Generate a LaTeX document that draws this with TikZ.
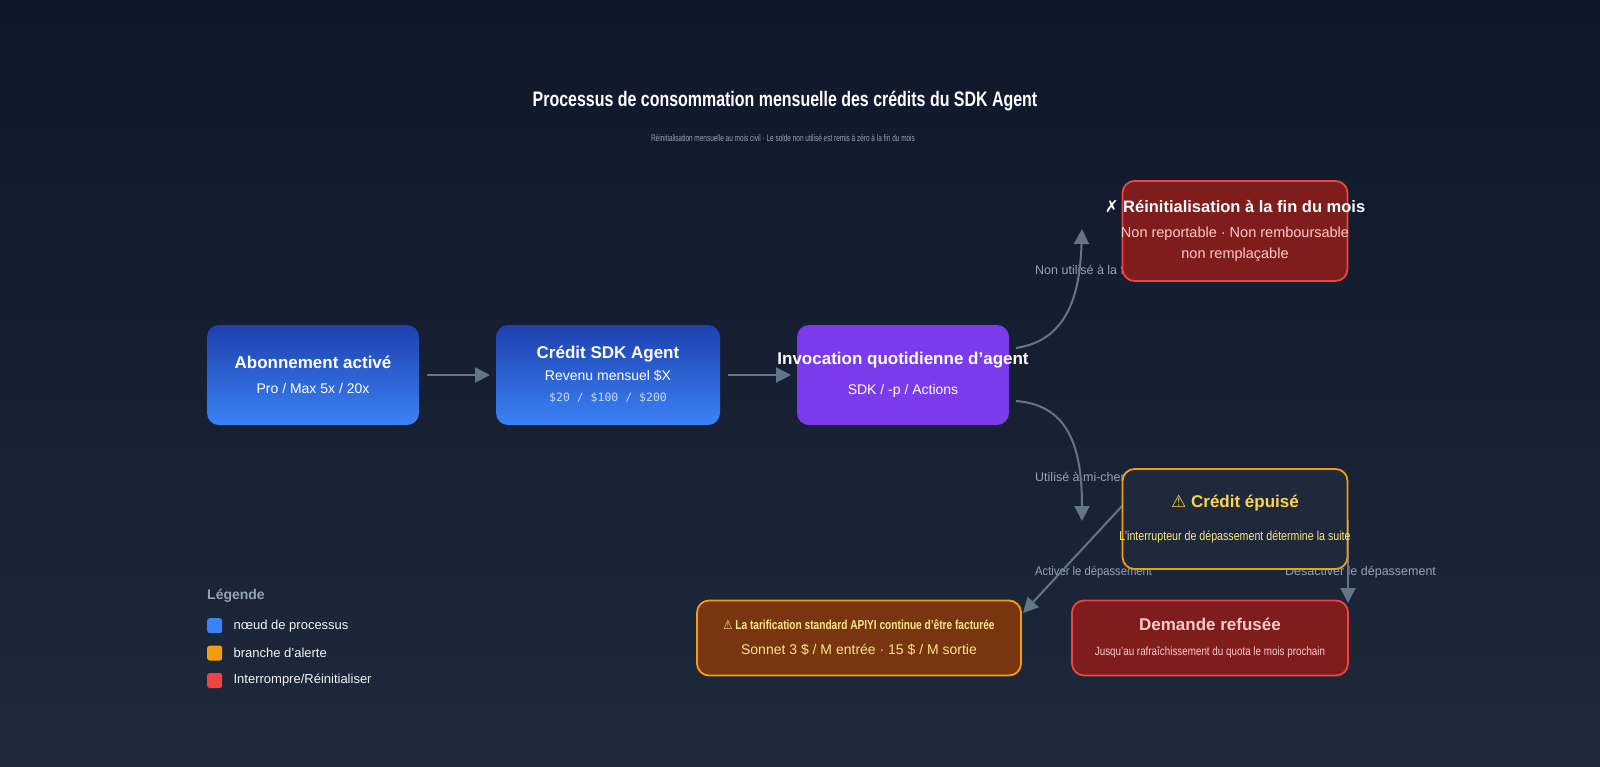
\documentclass[tikz,border=0pt]{standalone}
\usepackage{fontspec}
\setmainfont{Liberation Sans}
\setmonofont{DejaVu Sans Mono}
\newfontfamily\symfont{DejaVu Sans}
\usetikzlibrary{positioning,arrows.meta}
\definecolor{bgtop}{HTML}{0F172A}
\definecolor{bgbot}{HTML}{1E293B}
\definecolor{bluetop}{HTML}{1E40AF}
\definecolor{bluebot}{HTML}{3B82F6}
\definecolor{purp}{HTML}{7C3AED}
\definecolor{redfill}{HTML}{7F1D1D}
\definecolor{redline}{HTML}{EF4444}
\definecolor{amber}{HTML}{F59E0B}
\definecolor{amberfill}{HTML}{78350F}
\definecolor{slatebox}{HTML}{1E293B}
\definecolor{arrowc}{HTML}{64748B}
\definecolor{labelc}{HTML}{94A3B8}
\definecolor{pinkt}{HTML}{FECACA}
\definecolor{yellowt}{HTML}{FCD34D}
\definecolor{creamt}{HTML}{FDE68A}
\definecolor{monoc}{HTML}{BFDBFE}
\begin{document}
\begin{tikzpicture}[x=1pt,y=-1pt]

% Define the styles
\tikzset{
  box/.style={rounded corners=12pt, minimum width=#1, minimum height=100pt, align=center, text=white},
  procbox/.style={box=212pt, top color=bluetop, bottom color=bluebot, draw=none},
  flow/.style={-{Triangle[length=15pt,width=15pt]}, draw=arrowc, line width=2pt},
  edgelabel/.style={text=labelc, font=\fontsize{12.5}{14}\selectfont, anchor=west, inner sep=0pt},
  legsq/.style={minimum size=15pt, rounded corners=2.5pt, inner sep=0pt}
}

% Background
\shade[top color=bgtop, bottom color=bgbot] (0,0) rectangle (1600,766);
\useasboundingbox (0,0) rectangle (1600,766);

% Title
\node[text=white, font=\bfseries\fontsize{21}{24}\selectfont] (title) at (785,101) {\scalebox{0.76}[1]{Processus de consommation mensuelle des crédits du SDK Agent}};
\node[text=labelc, font=\fontsize{9.5}{10}\selectfont] (subtitle) at (783,138) {\scalebox{0.68}[1]{Réinitialisation mensuelle au mois civil · Le solde non utilisé est remis à zéro à la fin du mois}};

% Edge labels (under the boxes)
\node[edgelabel] (lunused) at (1035,270) {Non utilisé à la fin du mois};
\node[edgelabel] (lused) at (1035,477) {Utilisé à mi-chemin};
\node[edgelabel] (lon) at (1035,572) {\scalebox{0.9}[1]{Activer le dépassement}};
\node[edgelabel] (loff) at (1285,572) {Désactiver le dépassement};

% Anchor points
\coordinate (abo) at (313,375);
\coordinate (sdk) at (608,375);
\coordinate (inv) at (903,375);
\coordinate (rst) at (1235,231);
\coordinate (epu) at (1235,519);
\coordinate (ovr) at (859,638);
\coordinate (ref) at (1210,638);
\coordinate (upend) at (1082,229);
\coordinate (downend) at (1082,521);

% Add the edges
\draw[flow] (427,375) -- (490,375);
\draw[flow] (728,375) -- (791,375);
\draw[flow] (1016,348) .. controls (1070,340) and (1080,290) .. (upend);
\draw[flow] (1016,401) .. controls (1070,405) and (1082,450) .. (downend);
\draw[flow] (1123,505) -- (1023,613);
\draw[flow] (1348,520) -- (1348,603);

% Define the nodes
\node[procbox] (subscr) at (abo) {\bfseries\fontsize{17}{20}\selectfont Abonnement activé\\[13pt]
  \fontsize{14}{16}\selectfont Pro / Max 5x / 20x};
\node[box=224pt, top color=bluetop, bottom color=bluebot] (credit) at (sdk) {\bfseries\fontsize{17}{20}\selectfont Crédit SDK Agent\\[7pt]
  \fontsize{14}{16}\selectfont Revenu mensuel \$X\\[9pt]
  \color{monoc}\ttfamily\fontsize{11.5}{14}\selectfont \$20 / \$100 / \$200};
\node[box=212pt, fill=purp] (invoc) at (inv) {\makebox[0pt]{\bfseries\fontsize{17}{20}\selectfont Invocation quotidienne d'agent}\\[15pt]
  \fontsize{14}{16}\selectfont SDK / -p / Actions};
\node[box=225pt, fill=redfill, draw=redline, line width=1.8pt] (reset) at (rst) {\makebox[0pt]{\bfseries\fontsize{16.5}{19}\selectfont{\symfont ✗} Réinitialisation à la fin du mois}\\[13pt]
  \color{pinkt}\makebox[0pt]{\fontsize{14.5}{17}\selectfont Non reportable · Non remboursable}\\[6pt]
  \color{pinkt}\fontsize{14.5}{17}\selectfont non remplaçable};
\node[box=225pt, fill=slatebox, draw=amber, line width=1.8pt] (empty) at (epu) {\color{yellowt}\bfseries\fontsize{17}{20}\selectfont{\symfont ⚠} Crédit épuisé\\[19pt]
  \color{creamt}\makebox[0pt]{\fontsize{13}{14}\selectfont\scalebox{0.82}[1]{L'interrupteur de dépassement détermine la suite}}};
\node[box=324pt, minimum height=75pt, fill=amberfill, draw=amber, line width=1.8pt] (overage) at (ovr) {\color{creamt}\bfseries\fontsize{13}{14}\selectfont\scalebox{0.78}[1]{{\symfont\mdseries ⚠} La tarification standard APIYI continue d'être facturée}\\[13pt]
  \color{creamt}\fontsize{14}{16}\selectfont Sonnet 3 \$ / M entrée · 15 \$ / M sortie};
\node[box=276pt, minimum height=75pt, fill=redfill, draw=redline, line width=1.8pt] (refused) at (ref) {\color{pinkt}\bfseries\fontsize{17}{19}\selectfont Demande refusée\\[13pt]
  \color{pinkt}\fontsize{12}{13}\selectfont\scalebox{0.82}[1]{Jusqu'au rafraîchissement du quota le mois prochain}};

% Legend
\node[text=labelc, font=\bfseries\fontsize{14}{15}\selectfont, anchor=west, inner sep=0pt] (legtitle) at (207,596) {Légende};
\node[legsq, fill=bluebot, anchor=north west] (leg1) at (207,618) {};
\node[legsq, fill=amber, below=12pt of leg1] (leg2) {};
\node[legsq, fill=redline, below=12pt of leg2] (leg3) {};
\foreach \sq/\txt in {leg1/nœud de processus, leg2/branche d'alerte, leg3/{Interrompre/Réinitialiser}}
  \node[right=11pt of \sq, text=white!88!labelc, font=\fontsize{13}{14}\selectfont, inner sep=0pt] {\txt};

\end{tikzpicture}
\end{document}
